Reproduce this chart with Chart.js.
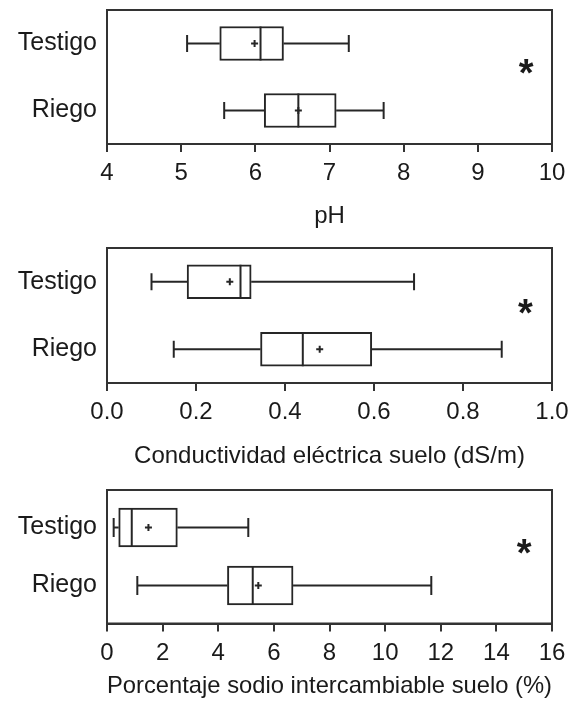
<!DOCTYPE html>
<html><head><meta charset="utf-8">
<script src="https://cdn.jsdelivr.net/npm/chart.js@4/dist/chart.umd.min.js"></script>
<style>
html,body{margin:0;padding:0;background:#fff;}
#wrap{position:relative;width:570px;height:710px;overflow:hidden;}
canvas{position:absolute;left:0;}
</style></head><body>
<div id="wrap">
<canvas id="c1" width="570" height="231" style="top:0px"></canvas>
<canvas id="c2" width="570" height="240" style="top:231px"></canvas>
<canvas id="c3" width="570" height="239" style="top:471px"></canvas>
</div>
<script>
// ---------- DATA ----------
const groups = ['Testigo', 'Riego'];

// pH
const phMin    = [5.08, 5.58];
const phQ1     = [5.52, 6.12];
const phMedian = [6.07, 6.58];
const phQ3     = [6.38, 7.09];
const phMax    = [7.26, 7.73];
const phMean   = [5.99, 6.58];
const phTicks      = [4, 5, 6, 7, 8, 9, 10];
const phTickLabels = ['4', '5', '6', '7', '8', '9', '10'];
const phTitle = 'pH';

// Conductividad eléctrica
const ceMin    = [0.10, 0.15];
const ceQ1     = [0.18, 0.345];
const ceMedian = [0.30, 0.44];
const ceQ3     = [0.324, 0.595];
const ceMax    = [0.69, 0.887];
const ceMean   = [0.276, 0.478];
const ceTicks      = [0, 0.2, 0.4, 0.6, 0.8, 1.0];
const ceTickLabels = ['0.0', '0.2', '0.4', '0.6', '0.8', '1.0'];
const ceTitle = 'Conductividad eléctrica suelo (dS/m)';

// Porcentaje sodio intercambiable
const psiMin    = [0.24, 1.09];
const psiQ1     = [0.42, 4.33];
const psiMedian = [0.89, 5.24];
const psiQ3     = [2.53, 6.69];
const psiMax    = [5.08, 11.66];
const psiMean   = [1.49, 5.44];
const psiTicks      = [0, 2, 4, 6, 8, 10, 12, 14, 16];
const psiTickLabels = ['0', '2', '4', '6', '8', '10', '12', '14', '16'];
const psiTitle = 'Porcentaje sodio intercambiable suelo (%)';

const sigMark = '*';

// ---------- STYLE ----------
const FONT = "'Liberation Sans', Arial, Helvetica, sans-serif";
const FS = 24;
const FS_CAT = 25;
const TEXT = '#1a1a1a';
const LINE = '#262626';
const FRAME = '#333333';

const framePlugin = {
  id: 'frame',
  afterDraw(chart, args, opts) {
    const {ctx, chartArea: a} = chart;
    ctx.save();
    ctx.strokeStyle = FRAME;
    ctx.lineWidth = 2;
    ctx.strokeRect(a.left, a.top, a.right - a.left, a.bottom - a.top);
    const xs = chart.scales.x, ys = chart.scales.y;
    const px = xs.getPixelForValue(opts.sigX);
    const py = ys.getPixelForValue(opts.sigY);
    ctx.font = "bold 38px " + FONT;
    ctx.fillStyle = TEXT;
    ctx.textAlign = 'center';
    ctx.textBaseline = 'alphabetic';
    const m = ctx.measureText(sigMark);
    ctx.fillText(sigMark, px, py + (m.actualBoundingBoxAscent - m.actualBoundingBoxDescent) / 2);
    ctx.restore();
  }
};

function makePanel(id, d, L) {
  const datasets = [];
  datasets.push({
    type: 'bar', indexAxis: 'y',
    data: groups.map((g, i) => ({y: i, x: [d.q1[i], d.q3[i]]})),
    backgroundColor: '#ffffff', borderColor: LINE, borderWidth: 2,
    borderSkipped: false, barThickness: L.box, order: 2
  });
  groups.forEach((g, i) => {
    datasets.push({type: 'line', data: [{x: d.min[i], y: i}, {x: d.q1[i], y: i}],
      borderColor: LINE, borderWidth: 2, pointRadius: 0, fill: false, order: 3});
    datasets.push({type: 'line', data: [{x: d.q3[i], y: i}, {x: d.max[i], y: i}],
      borderColor: LINE, borderWidth: 2, pointRadius: 0, fill: false, order: 3});
  });
  datasets.push({type: 'scatter',
    data: groups.map((g, i) => ({x: d.min[i], y: i})).concat(groups.map((g, i) => ({x: d.max[i], y: i}))),
    pointStyle: 'line', rotation: 90, radius: L.cap, borderColor: LINE, borderWidth: 2, order: 1});
  datasets.push({type: 'scatter',
    data: groups.map((g, i) => ({x: d.med[i], y: i})),
    pointStyle: 'line', rotation: 90, radius: L.box / 2, borderColor: LINE, borderWidth: 2, order: 0});
  datasets.push({type: 'scatter',
    data: groups.map((g, i) => ({x: d.mean[i], y: i})),
    pointStyle: 'cross', radius: 3.5, borderColor: LINE, borderWidth: 2, order: 0});

  return new Chart(document.getElementById(id), {
    type: 'bar',
    data: {datasets},
    plugins: [framePlugin],
    options: {
      responsive: false, animation: false, events: [],
      layout: {autoPadding: false, padding: {top: L.padTop, bottom: L.padBottom, left: 0, right: 18}},
      plugins: {legend: {display: false}, tooltip: {enabled: false}, frame: {sigX: L.sigX, sigY: L.sigY}},
      scales: {
        x: {
          type: 'linear', position: 'bottom', offset: false,
          min: d.ticks[0], max: d.ticks[d.ticks.length - 1],
          afterBuildTicks: s => { s.ticks = d.ticks.map(v => ({value: v})); },
          ticks: {callback: (v, i) => d.tickLabels[i], font: {family: FONT, size: FS}, color: TEXT,
                  padding: 7, autoSkip: false, maxRotation: 0},
          grid: {offset: false, drawOnChartArea: false, drawTicks: true, tickLength: 8, color: FRAME, lineWidth: 2},
          border: {display: true, color: FRAME, width: 2},
          title: {display: true, text: d.title, font: {family: FONT, size: FS}, color: TEXT, padding: 0},
          afterFit: s => { s.height = L.xHeight; s.paddingLeft = 0; s.paddingRight = 0; }
        },
        y: {
          type: 'linear', position: 'left', reverse: true, offset: false, min: L.yMin, max: L.yMax,
          afterBuildTicks: s => { s.ticks = groups.map((g, i) => ({value: i})); },
          ticks: {callback: v => groups[v], font: {family: FONT, size: FS_CAT}, color: TEXT, padding: 10},
          grid: {display: false, drawTicks: false, tickLength: 0, offset: false}, border: {display: false},
          afterFit: s => { s.width = 107; s.paddingTop = 0; s.paddingBottom = 0; }
        }
      }
    }
  });
}

makePanel('c1',
  {min: phMin, q1: phQ1, med: phMedian, q3: phQ3, max: phMax, mean: phMean,
   ticks: phTicks, tickLabels: phTickLabels, title: phTitle},
  {padTop: 10, padBottom: 0, xHeight: 87, yMin: -0.5, yMax: 1.5, box: 34, cap: 8.5, sigX: 9.65, sigY: 0.34});
makePanel('c2',
  {min: ceMin, q1: ceQ1, med: ceMedian, q3: ceQ3, max: ceMax, mean: ceMean,
   ticks: ceTicks, tickLabels: ceTickLabels, title: ceTitle},
  {padTop: 17, padBottom: 0, xHeight: 88, yMin: -0.5, yMax: 1.5, box: 34, cap: 8.5, sigX: 0.94, sigY: 0.367});
makePanel('c3',
  {min: psiMin, q1: psiQ1, med: psiMedian, q3: psiQ3, max: psiMax, mean: psiMean,
   ticks: psiTicks, tickLabels: psiTickLabels, title: psiTitle},
  {padTop: 19, padBottom: 9.5, xHeight: 77, yMin: -0.6466, yMax: 1.655, box: 39, cap: 9.5, sigX: 15.0, sigY: 0.32});
</script>
</body></html>
